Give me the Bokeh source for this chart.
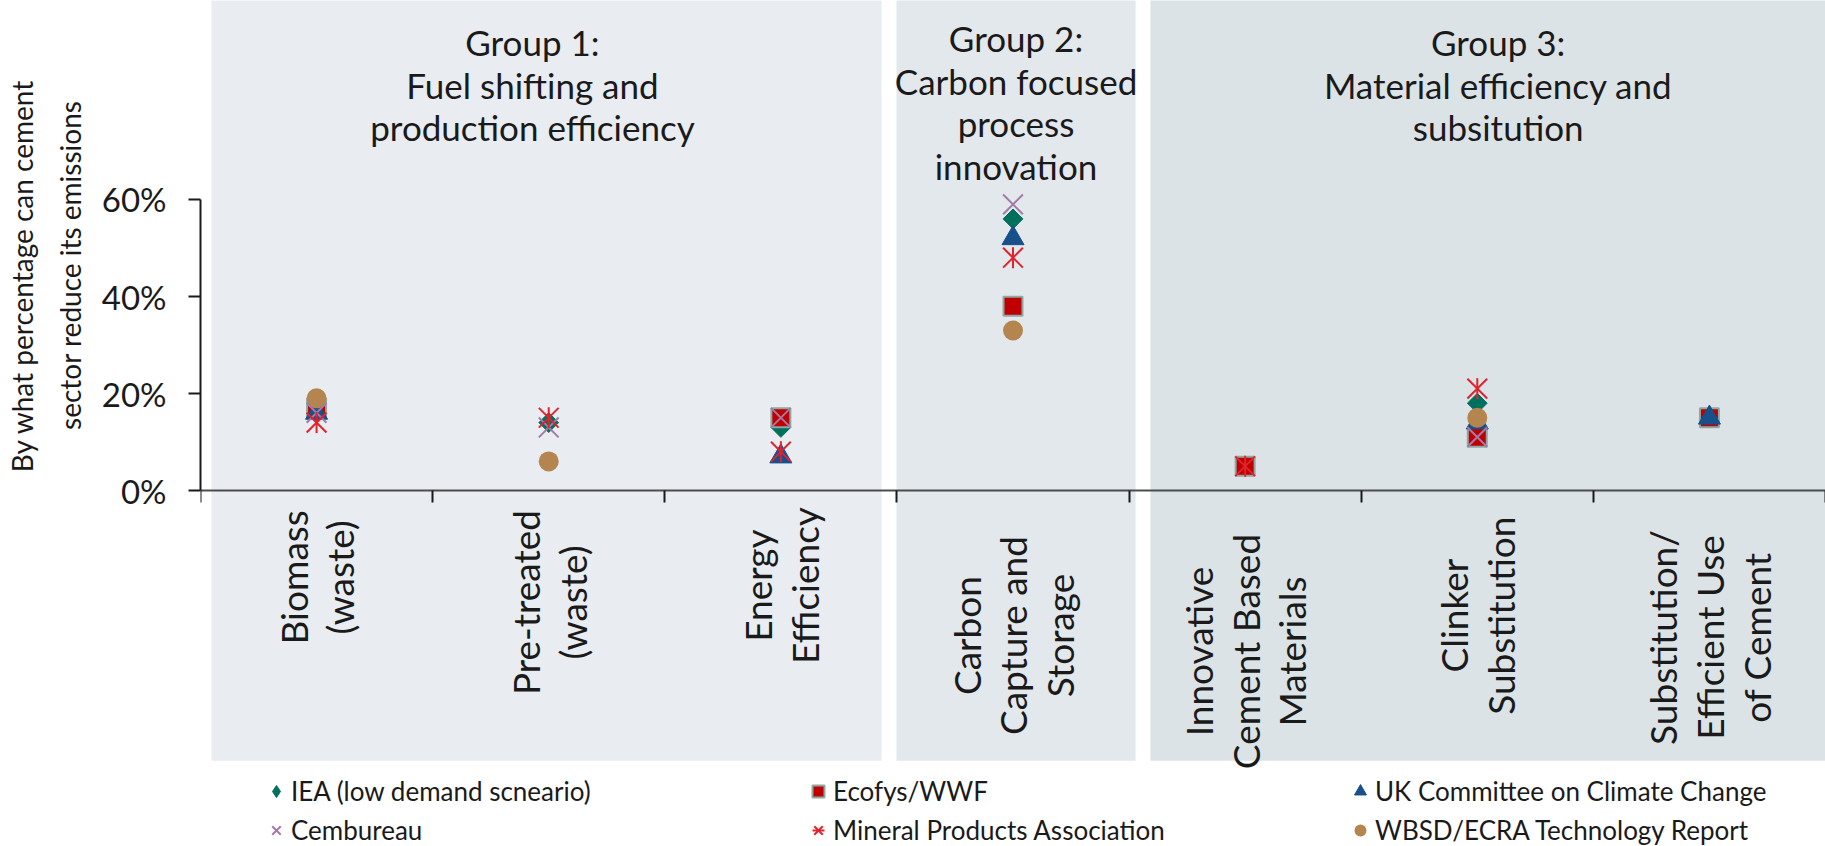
import math
from bokeh.plotting import figure
from bokeh.models import (ColumnDataSource, LinearAxis, FixedTicker, PrintfTickFormatter,
                          Range1d, Title, Legend, LegendItem)
from bokeh.embed import file_html
from bokeh.resources import INLINE
from bokeh.core.properties import value

NaN = float("nan")

# ---------------- data ----------------
categories = [
    "Biomass\n(waste)",
    "Pre-treated\n(waste)",
    "Energy\nEfficiency",
    "Carbon\nCapture and\nStorage",
    "Innovative\nCement Based\nMaterials",
    "Clinker\nSubstitution",
    "Substitution/\nEfficient Use\nof Cement",
]
iea = [16, 14, 13, 56, NaN, 18, NaN]            # IEA (low demand scneario)
ecofys = [17, NaN, 15, 38, 5, 11, 15]           # Ecofys/WWF
uk_ccc = [16, NaN, 7, 52, NaN, 14, 15]          # UK Committee on Climate Change
cembureau = [16, 13, 15, 59, NaN, 11, NaN]      # Cembureau
mpa = [14, 15, 8, 48, 5, 21, NaN]               # Mineral Products Association
wbsd = [19, 6, NaN, 33, NaN, 15, NaN]           # WBSD/ECRA Technology Report

series_labels = ["IEA (low demand scneario)", "Ecofys/WWF", "UK Committee on Climate Change",
                 "Cembureau", "Mineral Products Association", "WBSD/ECRA Technology Report"]

y_ticks = [0, 20, 40, 60]
y_title_lines = ["By what percentage can cement", "sector reduce its emissions"]

group_titles = ["Group 1:\nFuel shifting and\nproduction efficiency",
                "Group 2:\nCarbon focused\nprocess\ninnovation",
                "Group 3:\nMaterial efficiency and\nsubsitution"]

# ---------------- layout / style (not data) ----------------
band_left = [0.047, 2.998, 4.092]
band_right = [2.934, 4.028, 7.2]
band_colors = ["#E9EDF1", "#E3E8EC", "#DCE3E7"]
band_bottom = -55.7
band_top = 120
group_title_x = [1.43, 3.513, 5.59]
group_title_y = [83.7, 80.1, 83.7]
cat_label_y = [-17.9, -23.1, -19.6, -29.9, -33.2, -25.8, -30.3]

FONT = "Lato"
TXT = "#1A1A1A"

cat_x = [i + 0.5 for i in range(len(categories))]

p = figure(width=1825, height=846, output_backend="svg", toolbar_location=None,
           x_range=Range1d(0, 7.0), y_range=Range1d(-73.40, 101.03),
           x_axis_location=None, y_axis_location=None,
           min_border_left=200, min_border_right=0, min_border_top=0, min_border_bottom=0)
p.outline_line_color = None
p.grid.visible = False
p.background_fill_color = "white"
p.border_fill_color = "white"

# background group bands
p.quad(left=band_left, right=band_right, bottom=band_bottom, top=band_top,
       fill_color=band_colors, line_color=None)

# y axis
yaxis = LinearAxis(ticker=FixedTicker(ticks=y_ticks), formatter=PrintfTickFormatter(format="%d%%"),
                   bounds=(0, 60), major_tick_out=12, major_tick_in=0,
                   minor_tick_out=0, minor_tick_in=0,
                   axis_line_color="#1A1A1A", axis_line_width=2,
                   major_tick_line_color="#1A1A1A", major_tick_line_width=2,
                   major_label_text_font=FONT, major_label_text_font_size="33px",
                   major_label_text_color=TXT, major_label_standoff=22)
p.add_layout(yaxis, "left")

# y axis title: two lines, each its own left-side title (nearest the axis first)
p.add_layout(Title(text=y_title_lines[1], align="right", offset=100, text_font=FONT,
                   text_font_size="28px", text_font_style="normal", text_color=TXT,
                   standoff=24), "left")
p.add_layout(Title(text=y_title_lines[0], align="right", offset=79, text_font=FONT,
                   text_font_size="28px", text_font_style="normal", text_color=TXT,
                   standoff=0), "left")

# x axis at y = 0, ticks at category boundaries pointing down
xaxis = LinearAxis(fixed_location=0, ticker=FixedTicker(ticks=list(range(len(categories) + 1))),
                   major_tick_out=0, major_tick_in=12, minor_tick_out=0, minor_tick_in=0,
                   axis_line_color="#4D4D4D", axis_line_width=2,
                   major_tick_line_color="#1A1A1A", major_tick_line_width=2,
                   major_label_text_font_size="0px", major_label_text_color=None,
                   major_label_standoff=0)
p.add_layout(xaxis, "above")

# series markers (drawing order as in the reference)
src = ColumnDataSource(dict(x=cat_x, iea=iea, eco=ecofys, uk=uk_ccc, cem=cembureau, mpa=mpa, wbsd=wbsd))
# diamond used for the legend swatch; hidden under the rotated-square diamonds
r_iea_leg = p.scatter("x", "iea", source=src, marker="diamond", size=14,
                      fill_color="#00705E", line_color="#00705E")
r_iea = p.scatter("x", "iea", source=src, marker="square", angle=math.pi / 4, size=14,
                  fill_color="#00705E", line_color="#00705E")
r_eco = p.scatter("x", "eco", source=src, marker="square", size=19,
                  fill_color="#C00000", line_color="#8DA9A4", line_width=2)
r_uk = p.scatter("x", "uk", source=src, marker="triangle", size=22,
                 fill_color="#17508A", line_color="#17508A")
r_wbsd = p.scatter("x", "wbsd", source=src, marker="circle", size=20,
                   fill_color="#B5854F", line_color=None)
r_cem = p.scatter("x", "cem", source=src, marker="x", size=28,
                  line_color="#A47AA9", line_width=2)
r_mpa1 = p.scatter("x", "mpa", source=src, marker="x", size=28,
                   line_color="#E0232C", line_width=2)
r_mpa2 = p.scatter("x", "mpa", source=src, marker="dash", angle=math.pi / 2, size=21,
                   line_color="#E0232C", line_width=2)

# category labels (rotated)
lab_src = ColumnDataSource(dict(x=cat_x, y=cat_label_y, text=categories))
p.text("x", "y", text="text", source=lab_src, angle=math.pi / 2, text_align="center",
       text_baseline="middle", text_font=value(FONT), text_font_size=value("37px"),
       text_line_height=1.04, text_color=TXT)

# group titles
gt_src = ColumnDataSource(dict(x=group_title_x, y=group_title_y, text=group_titles))
p.text("x", "y", text="text", source=gt_src, text_align="center", text_baseline="middle",
       text_font=value(FONT), text_font_size=value("35px"), text_line_height=1.02, text_color=TXT)

# legend
legend = Legend(items=[
    LegendItem(label=series_labels[0], renderers=[r_iea_leg]),
    LegendItem(label=series_labels[3], renderers=[r_cem]),
    LegendItem(label=series_labels[1], renderers=[r_eco]),
    LegendItem(label=series_labels[4], renderers=[r_mpa1, r_mpa2]),
    LegendItem(label=series_labels[2], renderers=[r_uk]),
    LegendItem(label=series_labels[5], renderers=[r_wbsd]),
], orientation="vertical", nrows=2, location=(61, 0),
    glyph_width=30, glyph_height=30, label_height=30, label_width=505, label_standoff=0,
    spacing=7, padding=0, margin=0, border_line_color=None, background_fill_alpha=0,
    label_text_font=FONT, label_text_font_size="26px", label_text_color=TXT,
    label_text_baseline="middle")
p.add_layout(legend)

open("out.html", "w").write(file_html(p, INLINE))
